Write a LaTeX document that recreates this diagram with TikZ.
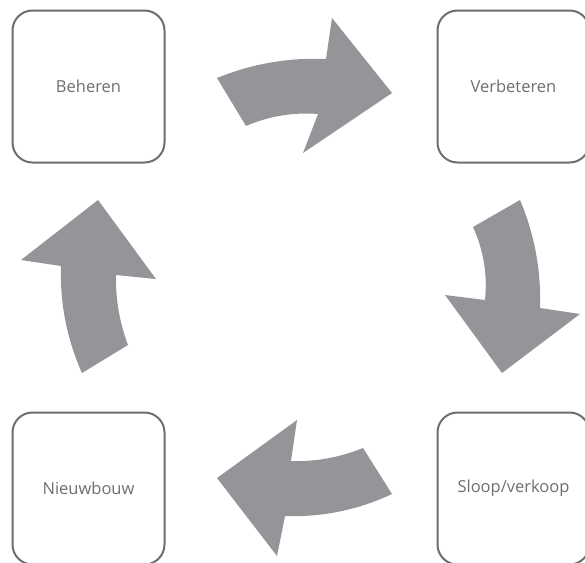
\documentclass[tikz,border=0pt]{standalone}
\usepackage{fontspec}
\setmainfont{Open Sans}
\definecolor{boxgray}{HTML}{6D6E71}
\definecolor{arrowgray}{HTML}{939598}

\begin{document}
\begin{tikzpicture}
 [x=1pt,y=-1pt,every node/.style={draw=boxgray,line width=2pt,rounded corners=20pt,
  minimum width=152pt,minimum height=152pt,text=boxgray,font=\fontsize{16.5}{19}\selectfont},
  blockarrow/.style={fill=arrowgray}]
 \useasboundingbox (0,0) rectangle (585,562);
 \clip (0,0) rectangle (585,562);
 \foreach \name/\x/\y/\txt in {beheren/88.5/86.5/Beheren,verbeteren/513.5/86.5/Verbeteren,nieuwbouw/88.5/488.5/Nieuwbouw,sloop/513.5/488.5/{Sloop/verkoop}}
 \node (\name) at (\x,\y) {\txt};
 % beheren -> verbeteren
 \fill[blockarrow] (217,78) .. controls (251.9,63.8) and (288.3,57.4) .. (326,59) -- (332,18) -- (392,93)
  -- (303,153) -- (318,114) .. controls (293,112.1) and (269,116.1) .. (246,126) -- cycle;
 % verbeteren -> sloop
 \fill[blockarrow] (520,200) .. controls (534.6,234.5) and (541.2,270.5) .. (540,308) -- (580,314) -- (502,373)
  -- (445,295) -- (485,300) .. controls (487.6,274.6) and (483.6,250.2) .. (473,227) -- cycle;
 % sloop -> nieuwbouw
 \fill[blockarrow] (392,494) .. controls (358.1,509.9) and (322.5,517.3) .. (285,516) -- (277,556) -- (217,478)
  -- (297,420) -- (291,461) .. controls (315.9,461.8) and (339.9,457.4) .. (363,448) -- cycle;
 % nieuwbouw -> beheren
 \fill[blockarrow] (82,373) .. controls (66.8,338.9) and (59.8,303.3) .. (61,266) -- (21,260) -- (98,200)
  -- (156,279) -- (116,275) .. controls (115.5,299.1) and (119.5,322.5) .. (128,345) -- cycle;
\end{tikzpicture}
\end{document}
